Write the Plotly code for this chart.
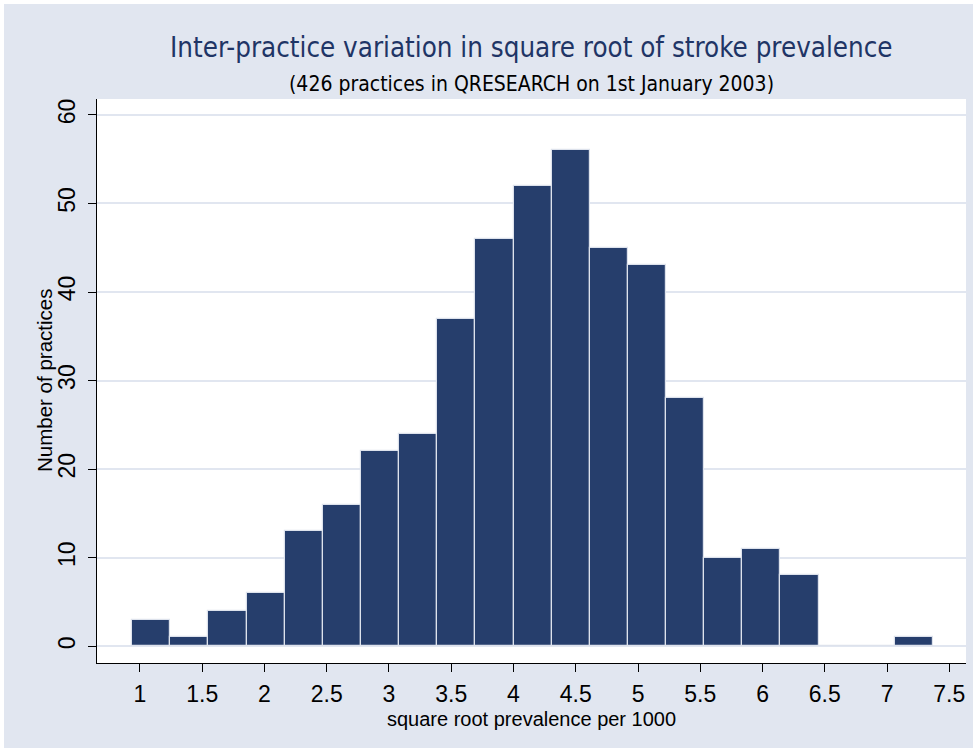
import plotly.graph_objects as go

# Histogram data (counts per bin)
counts = [3, 1, 4, 6, 13, 16, 22, 24, 37, 46, 52, 56, 45, 43, 28, 10, 11, 8, 0, 0, 1]
bin_start = 0.938
bin_width = 0.3062
x_ticks = [1, 1.5, 2, 2.5, 3, 3.5, 4, 4.5, 5, 5.5, 6, 6.5, 7, 7.5]
x_tick_labels = ["1", "1.5", "2", "2.5", "3", "3.5", "4", "4.5", "5", "5.5", "6", "6.5", "7", "7.5"]
y_ticks = [0, 10, 20, 30, 40, 50, 60]

title = "Inter-practice variation in square root of stroke prevalence"
subtitle = "(426 practices in QRESEARCH on 1st January 2003)"
x_title = "square root prevalence per 1000"
y_title = "Number of practices"

centers = [bin_start + bin_width * (i + 0.5) for i in range(len(counts))]

BG = "#e1e6f0"
BAR = "#263e6c"
FONT = "Liberation Sans, Arial, sans-serif"
NARROW = "Liberation Sans Narrow, Arial Narrow, DejaVu Sans Condensed, sans-serif"

fig = go.Figure()
fig.add_trace(go.Bar(
    x=centers, y=counts, width=bin_width,
    marker=dict(color=BAR, line=dict(color="#dde2ec", width=1.2)),
    hoverinfo="x+y",
))

W, H = 977, 752
L, R, T, B = 97, 11, 99, 89
pw, ph = W - L - R, H - T - B

fig.update_layout(
    width=W, height=H,
    margin=dict(l=L, r=R, t=T, b=B, pad=0),
    paper_bgcolor=BG, plot_bgcolor="white",
    showlegend=False, bargap=0,
    font=dict(family=FONT, color="black"),
    xaxis=dict(
        range=[0.655, 7.634], tickmode="array", tickvals=x_ticks, ticktext=x_tick_labels,
        showgrid=False, zeroline=False, showline=True, linecolor="black", linewidth=1,
        ticks="outside", ticklen=8, tickcolor="black", tickwidth=1,
        ticklabelstandoff=2,
        tickfont=dict(size=23, family=FONT, color="black"),
        mirror=False,
    ),
    yaxis=dict(
        range=[-1.9, 61.8], tickmode="array", tickvals=y_ticks,
        showgrid=True, gridcolor="#e1e6f0", gridwidth=2, zeroline=False,
        showline=True, linecolor="black", linewidth=1,
        ticks="outside", ticklen=8, tickcolor="black", tickwidth=1,
        ticklabelstandoff=4,
        tickangle=-90, tickfont=dict(size=23, family=FONT, color="black"),
    ),
    annotations=[
        dict(text=title, x=0.5, y=1 + (T - 47) / ph, xref="paper", yref="paper",
             xanchor="center", yanchor="middle", showarrow=False,
             font=dict(size=27.5, family=NARROW, color="#1f3566")),
        dict(text=subtitle, x=0.5, y=1 + (T - 84) / ph, xref="paper", yref="paper",
             xanchor="center", yanchor="middle", showarrow=False,
             font=dict(size=21, family=NARROW, color="black")),
        dict(text=x_title, x=(531 - L) / pw, y=-(719 - (T + ph)) / ph, xref="paper", yref="paper",
             xanchor="center", yanchor="middle", showarrow=False,
             font=dict(size=20, family=FONT, color="black")),
        dict(text=y_title, x=(44 - L) / pw, y=0.5, xref="paper", yref="paper",
             xanchor="center", yanchor="middle", showarrow=False, textangle=-90,
             font=dict(size=20.5, family=FONT, color="black")),
    ],
    shapes=[
        dict(type="rect", xref="paper", yref="paper",
             x0=-L / pw, x1=(W - L) / pw, y0=-B / ph, y1=1 + T / ph,
             line=dict(color="white", width=8), fillcolor="rgba(0,0,0,0)", layer="above"),
    ],
)

fig.write_html("out.html", config={"displayModeBar": False},
               post_script="document.body.style.margin='0';document.body.style.overflow='hidden';")
